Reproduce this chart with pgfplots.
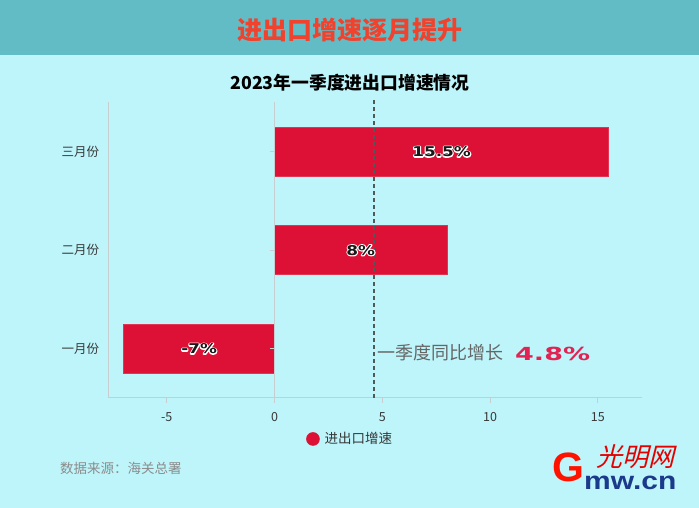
\documentclass[border=0pt]{standalone}
\usepackage{pgfplots}
\pgfplotsset{compat=1.18}
\usepackage{fontspec}
\setmainfont{Noto Sans CJK SC}
\newfontfamily\valfont[FakeStretch=1.25]{DejaVu Sans}
\newfontfamily\avgfont[FakeStretch=1.5]{DejaVu Sans}
\newfontfamily\logofont{Liberation Sans}
\newfontfamily\logowide[FakeStretch=1.2]{Liberation Sans}
\newfontfamily\callig[FakeSlant=0.25]{Noto Sans CJK SC}
\definecolor{bgc}{RGB}{189,245,250}
\definecolor{hdr}{RGB}{98,188,198}
\definecolor{titlered}{RGB}{240,66,45}
\definecolor{barc}{RGB}{221,16,53}
\definecolor{gcol}{RGB}{200,205,208}
\definecolor{avgred}{RGB}{226,34,82}
\definecolor{dashc}{RGB}{80,88,88}
\definecolor{txtc}{RGB}{55,55,55}
\definecolor{navy}{RGB}{28,58,140}
\newcommand{\strk}[1]{\special{pdf:code 1 Tr 2.2 w 1 j}#1\special{pdf:code 0 Tr}}
\tikzset{vl/.style={font=\valfont\bfseries\fontsize{13.5}{15}\selectfont}}
\begin{document}
\begin{tikzpicture}[x=1pt,y=1pt]
\useasboundingbox (0,0) rectangle (699,508);
\fill[bgc] (0,0) rectangle (699,508);
\fill[hdr] (0,453) rectangle (699,508);
\node[titlered, font=\fontsize{25}{28}\selectfont\bfseries] at (350,478) {进出口增速逐月提升};
\node[black, font=\fontsize{17.8}{21}\selectfont\bfseries] at (350,425.5) {2023年一季度进出口增速情况};
\begin{axis}[
  at={(108.6pt,110pt)}, anchor=south west,
  scale only axis, width=533.4pt, height=295.5pt,
  xmin=-7.7, xmax=17.05, ymin=-0.5, ymax=2.5,
  axis x line*=bottom, axis y line*=left,
  axis line style={draw=gcol, line width=1pt, -},
  xtick={-5,0,5,10,15},
  ytick={0,1,2}, yticklabels={一月份,二月份,三月份},
  tick align=outside, major tick length=5pt,
  xtick style={draw=gcol, line width=1pt},
  ytick style={draw=none},
  /pgf/number format/assume math mode=true,
  ticklabel style={font=\fontsize{12.5}{14}\selectfont, text=txtc},
  xticklabel style={yshift=-6pt},
  yticklabel style={xshift=-1pt},
  legend style={at={(axis description cs:0.3701,-0.1387)}, anchor=west, draw=none, fill=none, inner sep=0pt,
    font=\fontsize{13.5}{16}\selectfont, text=txtc, /tikz/every odd column/.style={column sep=3pt}},
  legend image code/.code={\fill[barc] (0pt,0pt) circle (6.5pt);},
  clip=false,
]
\addplot[xbar, bar width=49pt, fill=barc, draw=barc!85!white, line width=0.5pt] coordinates {(-7,0) (8,1) (15.5,2)};
\addlegendentry{进出口增速}
\draw[gcol, line width=1pt] (axis cs:0,-0.5) -- (axis cs:0,2.5);
\draw[gcol, line width=1pt] (axis cs:0,0) -- ++(-5pt,0pt);
\draw[gcol, line width=1pt] (axis cs:0,1) -- ++(-5pt,0pt);
\draw[gcol, line width=1pt] (axis cs:0,2) -- ++(-5pt,0pt);
\draw[dashc, line width=2pt, dash pattern=on 4pt off 3pt] (axis cs:4.6,-0.5) -- (axis cs:4.6,2.55);
\node[white, vl] at (axis cs:7.75,2) {\strk{15.5\%}};
\node[black!90, vl] at (axis cs:7.75,2) {15.5\%};
\node[white, vl] at (axis cs:4,1) {\strk{8\%}};
\node[black!90, vl] at (axis cs:4,1) {8\%};
\node[white, vl] at (axis cs:-3.5,0) {\strk{-7\%}};
\node[black!90, vl] at (axis cs:-3.5,0) {-7\%};
\end{axis}
\node[anchor=west, text=black!60, font=\fontsize{18}{20}\selectfont, inner sep=0pt] at (377,155) {一季度同比增长};
\node[anchor=west, text=avgred, font=\avgfont\bfseries\fontsize{18}{20}\selectfont, inner sep=0pt] at (515,154) {4.8\%};
\node[anchor=west, text=black!45, font=\fontsize{13.5}{16}\selectfont, inner sep=0pt] at (60,40) {数据来源：海关总署};
% logo
\node[text=red!85!orange, font=\logofont\bfseries\fontsize{41}{41}\selectfont, inner sep=0pt] at (568,41) {G};
\node[anchor=base west, text=navy, font=\logowide\bfseries\fontsize{25}{25}\selectfont, inner sep=0pt] at (584,18) {mw.cn};
\node[text=red!90!black, font=\callig\fontsize{26}{28}\selectfont, inner sep=0pt] at (635,51) {光明网};
\end{tikzpicture}
\end{document}
